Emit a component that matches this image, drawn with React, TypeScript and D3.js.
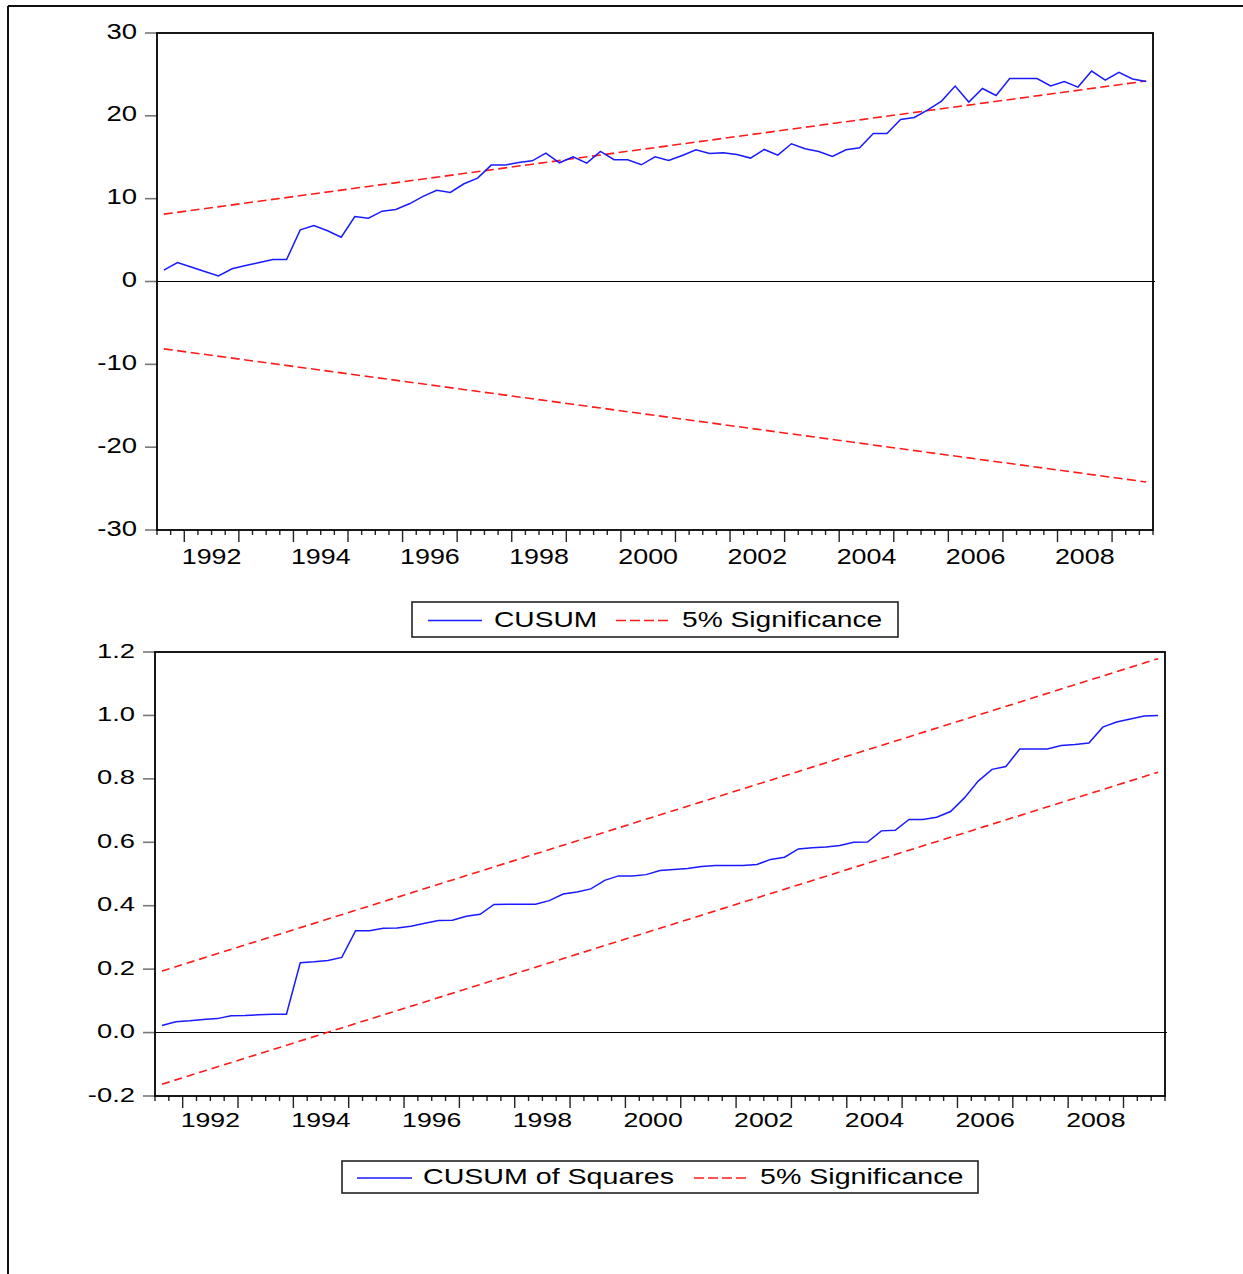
import * as d3 from "d3";

// quarterly observations 1991Q3 .. 2009Q3, drawn at mid-quarter
const firstObs = 1991.625;
const axisStart = 1991.5;
const axisEnd = 2009.75;

const cusum = [
  1.37, 2.29, 1.75, 1.2, 0.68, 1.53, 1.93, 2.3, 2.66, 2.66,
  6.24, 6.76, 6.12, 5.35, 7.85, 7.65, 8.49, 8.7, 9.38, 10.27,
  11.0, 10.75, 11.8, 12.48, 14.05, 14.05, 14.37, 14.57, 15.5, 14.33,
  15.06, 14.29, 15.7, 14.7, 14.7, 14.09, 15.06, 14.61, 15.22, 15.9,
  15.46, 15.54, 15.34, 14.9, 15.94, 15.26, 16.63, 16.02, 15.7, 15.1,
  15.9, 16.14, 17.87, 17.87, 19.57, 19.8, 20.73, 21.78, 23.6, 21.66,
  23.3, 22.46, 24.5, 24.5, 24.5, 23.6, 24.15, 23.47, 25.4, 24.3,
  25.24, 24.45, 24.15,
];
// 5% bounds at first and last observation
const cusumUpper = [8.13, 24.2];
const cusumLower = [-8.13, -24.2];

const cusumSq = [
  0.022, 0.034, 0.037, 0.041, 0.044, 0.053, 0.054, 0.056, 0.058, 0.058,
  0.22, 0.223, 0.227, 0.237, 0.321, 0.321, 0.329, 0.33, 0.335, 0.345,
  0.353, 0.354, 0.367, 0.373, 0.404, 0.405, 0.405, 0.405, 0.416, 0.437,
  0.443, 0.453, 0.48, 0.494, 0.494, 0.498, 0.511, 0.514, 0.517, 0.524,
  0.527, 0.527, 0.527, 0.53, 0.546, 0.553, 0.579, 0.583, 0.585, 0.59,
  0.6, 0.601, 0.636, 0.638, 0.672, 0.672, 0.679, 0.697, 0.74, 0.793,
  0.83, 0.839, 0.894, 0.894, 0.894, 0.905, 0.908, 0.913, 0.963, 0.979,
  0.989, 0.998, 1.0,
];
const cusumSqUpper = [0.194, 1.179];
const cusumSqLower = [-0.163, 0.821];

const yearLabels = [1992, 1994, 1996, 1998, 2000, 2002, 2004, 2006, 2008];
const topTicks = [-30, -20, -10, 0, 10, 20, 30];
const bottomTicks = [-0.2, 0, 0.2, 0.4, 0.6, 0.8, 1.0, 1.2];

const FONT = "'Liberation Sans', Arial, sans-serif";
const BLUE = "#1a1aff";
const RED = "#ff1a1a";

const dates = cusum.map((_, i) => firstObs + i * 0.25);
const lastDate = dates[dates.length - 1];
const quarterTicks = d3.range(axisStart, axisEnd + 0.01, 0.25);

const SText = ({ x, y, sx, size, anchor = "start", children }) => (
  <text
    transform={`translate(${x},${y}) scale(${sx},1)`}
    fontSize={size}
    fontFamily={FONT}
    textAnchor={anchor}
    fill="#000"
  >
    {children}
  </text>
);

const Panel = ({ box, yDomain, ticks, fmt, series, upper, lower, dash, labelSize, labelSx, yearSize, yearSx, yearBase }) => {
  const x = d3.scaleLinear().domain([axisStart, axisEnd]).range([box.left, box.right]);
  const y = d3.scaleLinear().domain(yDomain).range([box.bottom, box.top]);
  const line = d3
    .line<number>()
    .x((_, i) => x(dates[i]))
    .y((d) => y(d));
  const seg = (v: number[]) =>
    d3
      .line<number>()
      .x((_, i) => x(i === 0 ? firstObs : lastDate))
      .y((d) => y(d))(v);

  return (
    <g>
      {/* y ticks + labels */}
      {ticks.map((t) => (
        <g key={t}>
          <line x1={box.left - 12} x2={box.left} y1={y(t)} y2={y(t)} stroke="#777" strokeWidth={1.6} />
          <SText x={box.left - 20} y={y(t) + 5.5} sx={labelSx} size={labelSize} anchor="end">
            {fmt(t)}
          </SText>
        </g>
      ))}
      {/* x ticks */}
      {quarterTicks.map((q, i) => {
        const major = Math.abs(q - Math.round(q)) < 1e-6;
        return (
          <line
            key={i}
            x1={x(q)}
            x2={x(q)}
            y1={box.bottom}
            y2={box.bottom + (major ? 12 : 5)}
            stroke="#222"
            strokeWidth={1.4}
          />
        );
      })}
      {yearLabels.map((yr) => (
        <SText key={yr} x={x(yr + 0.5)} y={yearBase} sx={yearSx} size={yearSize} anchor="middle">
          {yr}
        </SText>
      ))}
      {/* zero line */}
      <line x1={box.left} x2={box.right + 2} y1={y(0)} y2={y(0)} stroke="#000" strokeWidth={1.1} />
      {/* bounds */}
      <path d={seg(upper)} fill="none" stroke={RED} strokeWidth={1.6} strokeDasharray={dash} />
      <path d={seg(lower)} fill="none" stroke={RED} strokeWidth={1.6} strokeDasharray={dash} />
      <path d={line(series)} fill="none" stroke={BLUE} strokeWidth={1.5} />
      {/* frame */}
      <rect
        x={box.left}
        y={box.top}
        width={box.right - box.left}
        height={box.bottom - box.top}
        fill="none"
        stroke="#000"
        strokeWidth={1.8}
      />
    </g>
  );
};

const Legend = ({ box, blueX, blueLabel, textX1, redX, textX2, base, sx }) => {
  const lineY = (box.y0 + box.y1) / 2 + 1;
  return (
    <g>
      <rect x={box.x0} y={box.y0} width={box.x1 - box.x0} height={box.y1 - box.y0} fill="#fff" stroke="#222" strokeWidth={1.6} />
      <line x1={blueX[0]} x2={blueX[1]} y1={lineY} y2={lineY} stroke={BLUE} strokeWidth={1.5} />
      <SText x={textX1} y={base} sx={sx} size={22}>
        {blueLabel}
      </SText>
      <line x1={redX[0]} x2={redX[1]} y1={lineY} y2={lineY} stroke={RED} strokeWidth={1.5} strokeDasharray="10,4" />
      <SText x={textX2} y={base} sx={sx} size={22}>
        5% Significance
      </SText>
    </g>
  );
};

export default function App() {
  return (
    <svg
      width={1243}
      height={1274}
      style={{ position: "absolute", left: 0, top: 0, background: "#fff" }}
    >
      {/* outer page frame */}
      <line x1={8} x2={1243} y1={6} y2={6} stroke="#111" strokeWidth={2} />
      <line x1={8} x2={8} y1={6} y2={1274} stroke="#111" strokeWidth={2} />

      <Panel
        box={{ left: 157, right: 1153, top: 33, bottom: 530 }}
        yDomain={[-30, 30]}
        ticks={topTicks}
        fmt={(t) => `${t}`}
        series={cusum}
        upper={cusumUpper}
        lower={cusumLower}
        dash="9,4.5"
        labelSize={22}
        labelSx={1.25}
        yearSize={22}
        yearSx={1.22}
        yearBase={564}
      />
      <Legend
        box={{ x0: 412, x1: 898, y0: 602, y1: 637 }}
        blueX={[428, 482]}
        blueLabel="CUSUM"
        textX1={494}
        redX={[616, 670]}
        textX2={682}
        base={627}
        sx={1.28}
      />

      <Panel
        box={{ left: 155, right: 1165, top: 652, bottom: 1096 }}
        yDomain={[-0.2, 1.2]}
        ticks={bottomTicks}
        fmt={(t) => t.toFixed(1)}
        series={cusumSq}
        upper={cusumSqUpper}
        lower={cusumSqLower}
        dash="8,5"
        labelSize={20}
        labelSx={1.37}
        yearSize={21}
        yearSx={1.27}
        yearBase={1127}
      />
      <Legend
        box={{ x0: 342, x1: 978, y0: 1161, y1: 1193 }}
        blueX={[357, 412]}
        blueLabel="CUSUM of Squares"
        textX1={423}
        redX={[694, 749]}
        textX2={760}
        base={1184}
        sx={1.3}
      />
    </svg>
  );
}
